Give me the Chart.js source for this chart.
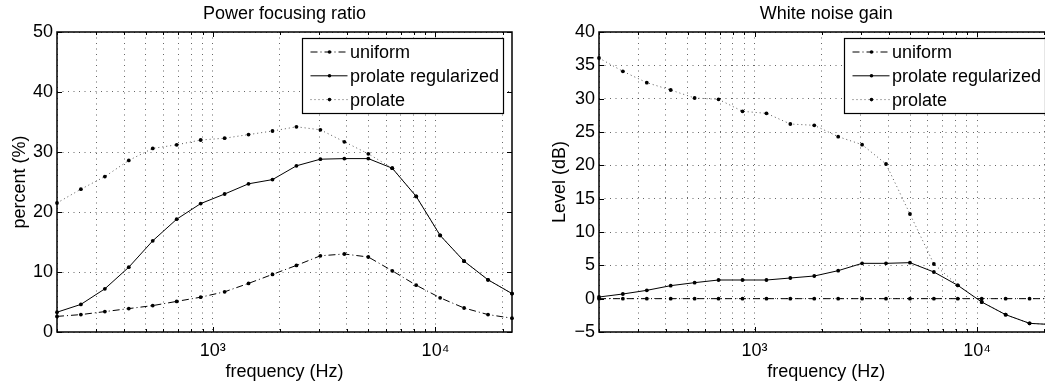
<!DOCTYPE html>
<html>
<head>
<meta charset="utf-8">
<script src="https://cdn.jsdelivr.net/npm/chart.js@4.4.1/dist/chart.umd.min.js"></script>
<style>
    html, body { margin: 0; padding: 0; background: #fff; overflow: hidden; }
    #wrap { position: relative; width: 1045px; height: 387px; overflow: hidden; }
    #focusChart { position: absolute; left: 0; top: 0; }
    #wngChart { position: absolute; left: 525px; top: 0; }
</style>
</head>
<body>
<div id="wrap">
    <canvas id="focusChart" width="525" height="387"></canvas>
    <canvas id="wngChart" width="545" height="387"></canvas>
</div>
<script>
// Frequency bands (Hz)
const frequencies = [200, 256, 328, 420, 538, 689, 883, 1131, 1448, 1855, 2376, 3043, 3898, 4993, 6395, 8191, 10491, 13437, 17211, 22050];
const seriesNames = ['uniform', 'prolate regularized', 'prolate'];

// Power focusing ratio (%)
const focusUniform = [2.6, 2.9, 3.4, 3.9, 4.4, 5.1, 5.8, 6.7, 8.1, 9.6, 11.1, 12.7, 13.0, 12.5, 10.2, 7.8, 5.7, 4.0, 2.9, 2.3];
const focusRegularized = [3.3, 4.6, 7.2, 10.8, 15.2, 18.8, 21.4, 23.0, 24.7, 25.4, 27.7, 28.8, 28.9, 28.9, 27.3, 22.6, 16.1, 11.8, 8.7, 6.4];
const focusProlate = [21.5, 23.8, 25.9, 28.6, 30.6, 31.2, 32.0, 32.3, 32.9, 33.5, 34.2, 33.7, 31.7, 29.7, 27.3, 22.6, 16.1, 11.8, 8.7, 6.4];

// White noise gain (dB)
const wngUniform = [0, 0, 0, 0, 0, 0, 0, 0, 0, 0, 0, 0, 0, 0, 0, 0, 0, 0, 0, 0];
const wngRegularized = [0.25, 0.7, 1.25, 1.95, 2.4, 2.8, 2.8, 2.8, 3.1, 3.4, 4.2, 5.3, 5.3, 5.4, 4.0, 2.0, -0.5, -2.4, -3.7, -3.9];
const wngProlate = [36.1, 34.1, 32.4, 31.3, 30.1, 29.9, 28.1, 27.8, 26.2, 26.0, 24.3, 23.1, 20.2, 12.7, 5.2, 2.0, -0.5, -2.4, -3.7, -3.9];

// Axis ticks
const freqGridTicks = [200, 300, 400, 500, 600, 700, 800, 900, 1000, 2000, 3000, 4000, 5000, 6000, 7000, 8000, 9000, 10000, 20000];
const freqLabelValues = [1000, 10000];
const freqLabelText = ['10³', '10⁴'];

const FONT = '"Liberation Sans", Arial, Helvetica, sans-serif';
Chart.defaults.font.family = FONT;
Chart.defaults.font.size = 18;
Chart.defaults.color = '#000';

const lineStyles = [
    { borderDash: [7, 3, 1, 3], borderColor: '#000' },  // dash-dot
    { borderDash: [], borderColor: '#000' },            // solid
    { borderDash: [1, 3], borderColor: '#555' }         // dotted
];

// MATLAB-like frame: inward ticks, box and boxed legend
const frameAndLegend = {
    id: 'frameAndLegend',
    afterDraw(chart) {
        const { ctx, chartArea: a, scales } = chart;
        ctx.save();
        ctx.strokeStyle = '#000';
        ctx.lineWidth = 1;
        ctx.setLineDash([]);
        scales.x.ticks.forEach(t => {
            const px = Math.round(scales.x.getPixelForValue(t.value)) + 0.5;
            const len = freqLabelValues.includes(t.value) ? 5 : 3;
            ctx.beginPath();
            ctx.moveTo(px, a.bottom); ctx.lineTo(px, a.bottom - len);
            ctx.moveTo(px, a.top); ctx.lineTo(px, a.top + len);
            ctx.stroke();
        });
        scales.y.ticks.forEach(t => {
            const py = Math.round(scales.y.getPixelForValue(t.value)) + 0.5;
            ctx.beginPath();
            ctx.moveTo(a.left, py); ctx.lineTo(a.left + 5, py);
            ctx.moveTo(a.right, py); ctx.lineTo(a.right - 5, py);
            ctx.stroke();
        });
        ctx.lineWidth = 1.5;
        ctx.strokeRect(a.left, a.top, a.right - a.left, a.bottom - a.top);

        // legend
        const lx = Math.round(a.right - 210) + 0.5, ly = Math.round(a.top + 6) + 0.5, lw = 201, lh = 75;
        ctx.fillStyle = '#fff';
        ctx.fillRect(lx, ly, lw, lh);
        ctx.lineWidth = 1.2;
        ctx.strokeRect(lx, ly, lw, lh);
        ctx.font = '18px ' + FONT;
        ctx.textBaseline = 'middle';
        chart.data.datasets.forEach((ds, i) => {
            const ry = ly + 13.5 + i * 23.8;
            ctx.strokeStyle = ds.borderColor;
            ctx.lineWidth = ds.borderWidth;
            ctx.setLineDash(ds.borderDash);
            ctx.beginPath();
            ctx.moveTo(lx + 8, ry); ctx.lineTo(lx + 45, ry);
            ctx.stroke();
            ctx.setLineDash([]);
            ctx.fillStyle = '#000';
            ctx.beginPath();
            ctx.arc(lx + 27, ry, 1.8, 0, Math.PI * 2);
            ctx.fill();
            ctx.fillText(ds.label, lx + 47.5, ry + 1);
        });
        ctx.restore();
    }
};

function makeChart(canvasId, title, yLabel, yMin, yMax, yStep, series, pad, yWidth) {
    const ctx = document.getElementById(canvasId).getContext('2d');
    return new Chart(ctx, {
        type: 'line',
        data: {
            datasets: series.map((vals, i) => ({
                label: seriesNames[i],
                data: frequencies.map((f, k) => ({ x: f, y: vals[k] })),
                borderColor: lineStyles[i].borderColor,
                borderDash: lineStyles[i].borderDash,
                borderWidth: 1,
                pointRadius: 1.9,
                pointBackgroundColor: '#000',
                pointBorderWidth: 0,
                tension: 0,
                clip: false
            }))
        },
        options: {
            responsive: false,
            animation: false,
            layout: { padding: pad },
            plugins: {
                legend: { display: false },
                tooltip: { enabled: false },
                title: {
                    display: true,
                    text: title,
                    fullSize: false,
                    font: { size: 18, weight: 'normal' },
                    color: '#000',
                    padding: { top: 3, bottom: 7.4 }
                }
            },
            scales: {
                x: {
                    type: 'logarithmic',
                    min: 200,
                    max: 22050,
                    afterBuildTicks: scale => {
                        scale.ticks = freqGridTicks.map(v => ({ value: v }));
                    },
                    afterFit: scale => { scale.height = 55; },
                    grid: { color: 'rgba(0,0,0,0.6)', lineWidth: 1, drawTicks: false },
                    border: { display: false, dash: [1, 4.5] },
                    ticks: {
                        autoSkip: false,
                        maxRotation: 0,
                        padding: 8,
                        callback: value => {
                            const idx = freqLabelValues.indexOf(value);
                            return idx >= 0 ? freqLabelText[idx] : '';
                        }
                    },
                    title: { display: true, text: 'frequency (Hz)', padding: { top: 0, bottom: 4.5 } }
                },
                y: {
                    min: yMin,
                    max: yMax,
                    afterFit: scale => { scale.width = yWidth; },
                    grid: { color: 'rgba(0,0,0,0.6)', lineWidth: 1, drawTicks: false },
                    border: { display: false, dash: [1, 4.5] },
                    ticks: {
                        stepSize: yStep,
                        padding: 4,
                        callback: value => String(value).replace('-', '\u2212')
                    },
                    title: { display: true, text: yLabel, padding: { top: 9, bottom: 0 } }
                }
            }
        },
        plugins: [frameAndLegend]
    });
}

makeChart('focusChart', 'Power focusing ratio', 'percent (%)', 0, 50, 10,
    [focusUniform, focusRegularized, focusProlate],
    { left: 0, right: 13, top: 0, bottom: 0 }, 57);

makeChart('wngChart', 'White noise gain', 'Level (dB)', -5, 40, 5,
    [wngUniform, wngRegularized, wngProlate],
    { left: 15, right: 16.5, top: 0, bottom: 0 }, 59);
</script>
</body>
</html>
